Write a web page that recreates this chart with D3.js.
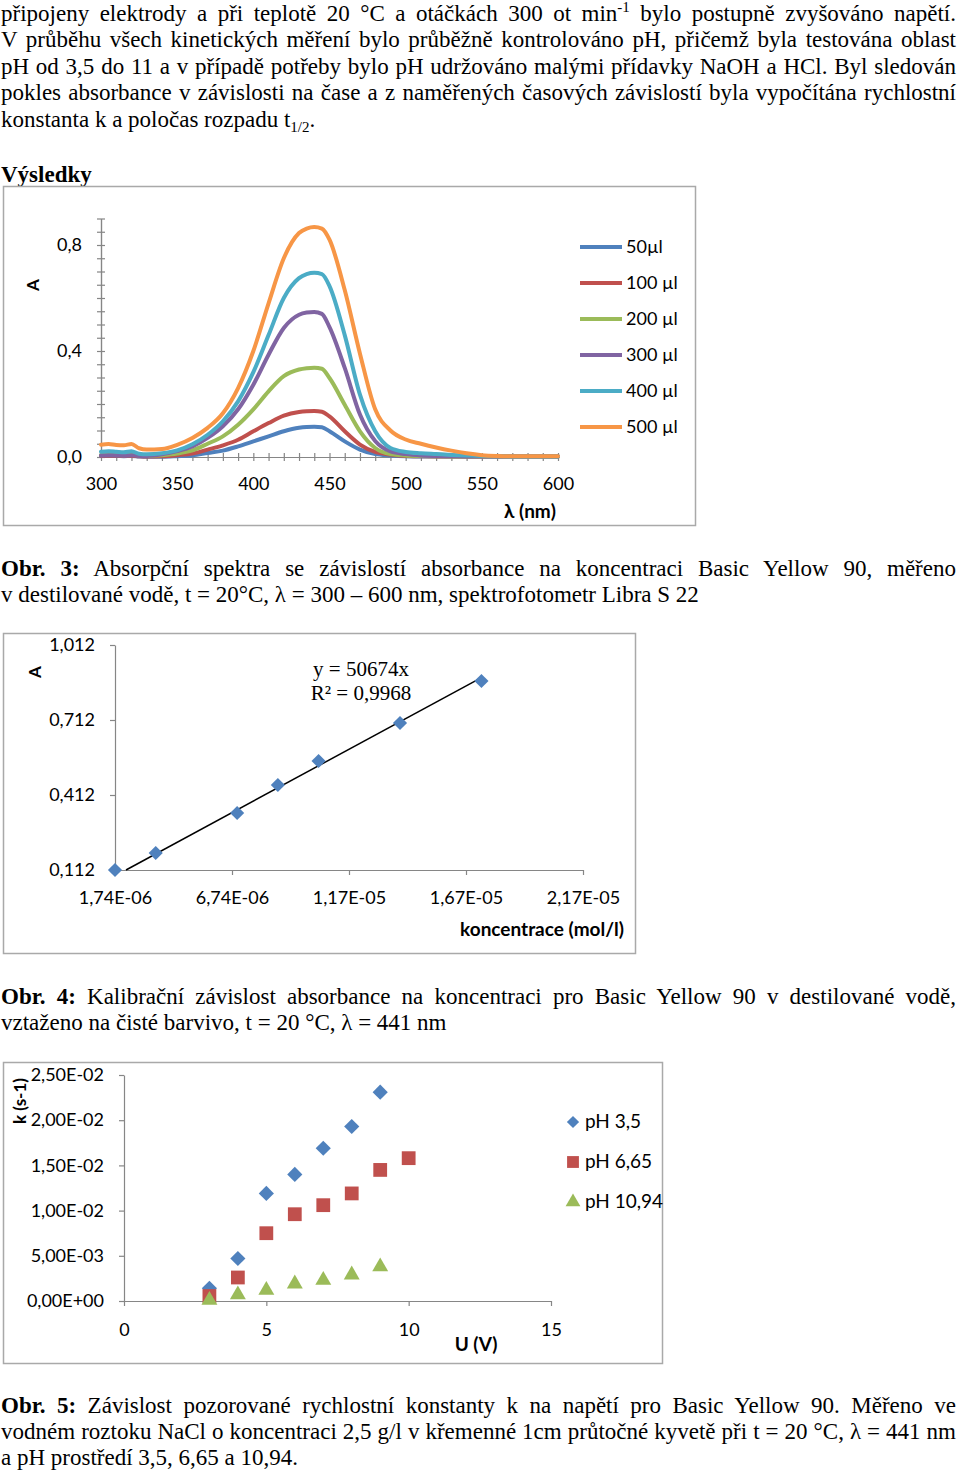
<!DOCTYPE html>
<html><head><meta charset="utf-8">
<script src="https://cdn.jsdelivr.net/npm/d3@7/dist/d3.min.js"></script>
<style>
html,body{margin:0;padding:0;background:#fff;}
svg{display:block;}
</style></head>
<body>
<svg id="page" width="960" height="1474"></svg>
<script>
// ---------------- DATA ----------------
// Figure 3: absorption spectra
const lambda = [300,305,310,315,320,325,330,340,350,360,370,380,390,400,410,420,430,435,440,445,450,460,470,480,490,500,510,520,530,540,550,560,570,580,590,600];
const spec50  = [0.004,0.004,0.004,0.003,0.004,0.002,0.001,0.001,0.003,0.006,0.015,0.024,0.040,0.059,0.078,0.097,0.110,0.113,0.114,0.112,0.097,0.059,0.028,0.011,0.006,0.003,0.002,0.002,0.002,0.002,0.002,0.002,0.002,0.002,0.002,0.002];
const spec100 = [0.005,0.005,0.005,0.004,0.005,0.003,0.002,0.003,0.007,0.013,0.028,0.044,0.065,0.097,0.128,0.156,0.170,0.173,0.174,0.171,0.153,0.097,0.047,0.019,0.009,0.004,0.003,0.002,0.002,0.002,0.002,0.002,0.002,0.002,0.002,0.002];
const spec200 = [0.008,0.009,0.008,0.007,0.009,0.005,0.004,0.007,0.013,0.025,0.050,0.078,0.122,0.180,0.248,0.305,0.330,0.335,0.337,0.333,0.298,0.197,0.097,0.034,0.011,0.006,0.004,0.003,0.002,0.002,0.002,0.002,0.002,0.002,0.002,0.002];
const spec300 = [0.006,0.007,0.006,0.005,0.007,0.004,0.004,0.010,0.022,0.040,0.072,0.116,0.180,0.273,0.386,0.487,0.537,0.545,0.547,0.540,0.490,0.336,0.160,0.060,0.021,0.011,0.006,0.004,0.003,0.002,0.002,0.002,0.002,0.002,0.002,0.002];
const spec400 = [0.020,0.022,0.020,0.018,0.022,0.012,0.010,0.014,0.025,0.048,0.084,0.135,0.210,0.320,0.460,0.600,0.675,0.690,0.695,0.690,0.645,0.460,0.235,0.097,0.034,0.019,0.014,0.011,0.008,0.006,0.004,0.003,0.002,0.002,0.002,0.002];
const spec500 = [0.046,0.049,0.045,0.044,0.049,0.033,0.028,0.030,0.046,0.072,0.110,0.165,0.260,0.400,0.580,0.750,0.845,0.862,0.868,0.862,0.820,0.630,0.390,0.180,0.100,0.066,0.050,0.036,0.024,0.014,0.007,0.004,0.003,0.003,0.003,0.003];
const specNames = ["50µl","100 µl","200 µl","300 µl","400 µl","500 µl"];
const specColors = ["#4F81BD","#C0504D","#9BBB59","#8064A2","#4BACC6","#F79646"];
const specX_ticks = [300,350,400,450,500,550,600];
const specY_ticks = [0,0.4,0.8];

// Figure 4: calibration
const calConc = [1.74e-6,3.48e-6,6.96e-6,8.70e-6,1.044e-5,1.392e-5,1.74e-5];
const calA    = [0.112,0.180,0.340,0.452,0.548,0.700,0.868];
const calSlope = 50674;
const calX_ticks = [1.74e-6,6.74e-6,1.174e-5,1.674e-5,2.174e-5];
const calX_labels = ["1,74E-06","6,74E-06","1,17E-05","1,67E-05","2,17E-05"];
const calY_ticks = [0.112,0.412,0.712,1.012];
const calY_labels = ["0,112","0,412","0,712","1,012"];

// Figure 5: rate constant vs voltage
const U_35  = [3,4,5,6,7,8,9];
const k_35  = [1.4e-3,4.7e-3,1.19e-2,1.40e-2,1.69e-2,1.93e-2,2.31e-2];
const U_665 = [3,4,5,6,7,8,9,10];
const k_665 = [5.5e-4,2.6e-3,7.5e-3,9.6e-3,1.06e-2,1.19e-2,1.45e-2,1.58e-2];
const U_1094 = [3,4,5,6,7,8,9];
const k_1094 = [1.0e-4,7.0e-4,1.2e-3,1.9e-3,2.3e-3,2.9e-3,3.8e-3];
const kNames = ["pH 3,5","pH 6,65","pH 10,94"];
const kColors = ["#4F81BD","#C0504D","#9BBB59"];
const kX_ticks = [0,5,10,15];
const kY_ticks = [0,0.005,0.01,0.015,0.02,0.025];
const kY_labels = ["0,00E+00","5,00E-03","1,00E-02","1,50E-02","2,00E-02","2,50E-02"];

// Text lines
const textLines = [
 {y:21, j:true, segs:[["připojeny elektrody a při teplotě 20 °C a otáčkách 300 ot min"],["-1","sup"],[" bylo postupně zvyšováno napětí."]]},
 {y:47, j:true, segs:[["V průběhu všech kinetických měření bylo průběžně kontrolováno pH, přičemž byla testována oblast"]]},
 {y:74, j:true, segs:[["pH od 3,5 do 11 a v případě potřeby bylo pH udržováno malými přídavky NaOH a HCl. Byl sledován"]]},
 {y:100, j:true, segs:[["pokles absorbance v závislosti na čase a z naměřených časových závislostí byla vypočítána rychlostní"]]},
 {y:127, j:false, segs:[["konstanta k a poločas rozpadu t"],["1/2","sub"],["."]]},
 {y:182, j:false, segs:[["Výsledky","bold"]]},
 {y:576, j:true, segs:[["Obr. 3:","bold"],[" Absorpční spektra se závislostí absorbance na koncentraci Basic Yellow 90, měřeno"]]},
 {y:602, j:false, segs:[["v destilované vodě, t = 20°C, λ = 300 – 600 nm, spektrofotometr Libra S 22"]]},
 {y:1004, j:true, segs:[["Obr. 4:","bold"],[" Kalibrační závislost absorbance na koncentraci pro Basic Yellow 90 v destilované vodě,"]]},
 {y:1030, j:false, segs:[["vztaženo na čisté barvivo, t = 20 °C, λ = 441 nm"]]},
 {y:1413, j:true, segs:[["Obr. 5:","bold"],[" Závislost pozorované rychlostní konstanty k na napětí pro Basic Yellow 90. Měřeno ve"]]},
 {y:1439, j:true, segs:[["vodném roztoku NaCl o koncentraci 2,5 g/l v křemenné 1cm průtočné kyvetě při t = 20 °C, λ = 441 nm"]]},
 {y:1465, j:false, segs:[["a pH prostředí 3,5, 6,65 a 10,94."]]}
];

// ---------------- DRAW ----------------
const svg = d3.select("#page");
svg.append("rect").attr("width",960).attr("height",1474).attr("fill","#fff");
const serif = "'Liberation Serif','Times New Roman',serif";
const sans = "Lato,'Open Sans',sans-serif";
const axisCol = "#868686";
const frameCol = "#A9A9A9";

// body text
textLines.forEach(L => {
  const t = svg.append("text").attr("x",1).attr("y",L.y)
    .attr("font-family",serif).attr("font-size",23).attr("fill","#000");
  L.segs.forEach(s => {
    const ts = t.append("tspan").text(s[0]);
    if (s[1]==="bold") ts.attr("font-weight","bold");
    if (s[1]==="sup") { ts.attr("font-size",15).attr("dy",-9); }
    if (s[1]==="sub") { ts.attr("font-size",15).attr("dy",5); }
  });
  t.selectAll("tspan").each(function(d,i){
    const prev = i>0 ? L.segs[i-1][1] : null;
    if (prev==="sup") d3.select(this).attr("dy",9);
    if (prev==="sub") d3.select(this).attr("dy",-5);
  });
  if (L.j) {
    const nat = t.node().getComputedTextLength();
    const full = L.segs.map(s=>s[0]).join("");
    const n = (full.match(/ /g)||[]).length;
    const ws = (956 - 1 - nat)/n;
    t.style("word-spacing", ws+"px");
  }
});

function styleAxis(g){
  g.select(".domain").attr("stroke",axisCol).attr("stroke-width",1.2);
  g.selectAll(".tick line").attr("stroke",axisCol).attr("stroke-width",1.2);
  g.selectAll(".tick text").attr("fill","#000").attr("font-family",sans).attr("font-size",18);
}

// ===== Chart 1 =====
svg.append("rect").attr("x",3.5).attr("y",186.5).attr("width",692).attr("height",339)
  .attr("fill","none").attr("stroke",frameCol).attr("stroke-width",1.5);
const x1 = d3.scaleLinear().domain([300,600]).range([101,558]);
const y1 = d3.scaleLinear().domain([0,0.9]).range([457,218.5]);
const minorY = d3.range(0,18.5,1).map(i=>i*0.05);
const minorX = d3.range(300,601,10);
const c1 = svg.append("g");
c1.append("g").attr("transform","translate(101,0)")
  .call(d3.axisLeft(y1).tickValues(minorY).tickSize(4).tickSizeOuter(0).tickFormat("")).call(styleAxis);
c1.append("g").attr("transform","translate(101,0)")
  .call(d3.axisRight(y1).tickValues(minorY).tickSize(4).tickSizeOuter(0).tickFormat("")).call(styleAxis);
c1.append("g").attr("transform","translate(101,0)")
  .call(d3.axisLeft(y1).tickValues(specY_ticks).tickSize(0).tickPadding(19).tickFormat(d=>d3.format(".1f")(d).replace(".",",")))
  .call(styleAxis).call(g=>g.select(".domain").remove());
c1.append("g").attr("transform","translate(0,457)")
  .call(d3.axisBottom(x1).tickValues(minorX).tickSize(4).tickSizeOuter(0).tickFormat("")).call(styleAxis);
c1.append("g").attr("transform","translate(0,457)")
  .call(d3.axisTop(x1).tickValues(minorX).tickSize(4).tickSizeOuter(0).tickFormat("")).call(styleAxis);
c1.append("g").attr("transform","translate(0,457)")
  .call(d3.axisBottom(x1).tickValues(specX_ticks).tickSize(0).tickPadding(20))
  .call(styleAxis).call(g=>g.select(".domain").remove());

const specSeries = [spec50,spec100,spec200,spec300,spec400,spec500];
const line1 = d3.line().x((d,i)=>x1(lambda[i])).y(d=>y1(d)).curve(d3.curveMonotoneX);
specSeries.forEach((s,i)=>{
  c1.append("path").attr("d",line1(s)).attr("fill","none")
    .attr("stroke",specColors[i]).attr("stroke-width",4).attr("stroke-linejoin","round").attr("stroke-linecap","round");
});
// legend
specNames.forEach((n,i)=>{
  const ly = 247 + i*36;
  c1.append("line").attr("x1",580).attr("x2",622).attr("y1",ly).attr("y2",ly)
    .attr("stroke",specColors[i]).attr("stroke-width",4);
  c1.append("text").attr("x",626).attr("y",ly+6).text(n)
    .attr("font-family",sans).attr("font-size",18).attr("fill","#000");
});
c1.append("text").attr("transform","translate(39,285) rotate(-90)").attr("text-anchor","middle")
  .attr("font-family",sans).attr("font-weight","bold").attr("font-size",17).text("A");
c1.append("text").attr("x",556).attr("y",518).attr("text-anchor","end")
  .attr("font-family",sans).attr("font-weight","bold").attr("font-size",19).text("λ (nm)");

// ===== Chart 2 =====
svg.append("rect").attr("x",3.5).attr("y",633.5).attr("width",632).attr("height",320)
  .attr("fill","none").attr("stroke",frameCol).attr("stroke-width",1.5);
const x2 = d3.scaleLinear().domain([1.74e-6,2.174e-5]).range([115,583]);
const y2 = d3.scaleLinear().domain([0.112,1.012]).range([870,645]);
const c2 = svg.append("g");
c2.append("g").attr("transform","translate(115,0)")
  .call(d3.axisLeft(y2).tickValues(calY_ticks).tickSize(5).tickSizeOuter(0).tickPadding(15)
    .tickFormat((d,i)=>calY_labels[i])).call(styleAxis);
c2.append("g").attr("transform","translate(0,870)")
  .call(d3.axisBottom(x2).tickValues(calX_ticks).tickSize(5).tickSizeOuter(0).tickPadding(16)
    .tickFormat((d,i)=>calX_labels[i])).call(styleAxis);
// trendline y = 50674x (from axis minimum to last point)
const tX0 = 0.112/calSlope, tX1 = d3.max(calConc);
c2.append("line").attr("x1",x2(tX0)).attr("y1",y2(calSlope*tX0))
  .attr("x2",x2(tX1)).attr("y2",y2(calSlope*tX1)).attr("stroke","#000").attr("stroke-width",1.5);
const diamond = d3.symbol().type(d3.symbolSquare);
c2.selectAll("path.pt").data(calConc).join("path").attr("class","pt")
  .attr("d",diamond.size(100)())
  .attr("transform",(d,i)=>`translate(${x2(d)},${y2(calA[i])}) rotate(45)`)
  .attr("fill","#4F81BD");
c2.append("text").attr("x",361).attr("y",676).attr("text-anchor","middle")
  .attr("font-family",serif).attr("font-size",21).text("y = 50674x");
c2.append("text").attr("x",361).attr("y",700).attr("text-anchor","middle")
  .attr("font-family",serif).attr("font-size",21).text("R² = 0,9968");
c2.append("text").attr("transform","translate(41,672) rotate(-90)").attr("text-anchor","middle")
  .attr("font-family",sans).attr("font-weight","bold").attr("font-size",17).text("A");
c2.append("text").attr("x",624).attr("y",936).attr("text-anchor","end")
  .attr("font-family",sans).attr("font-weight","bold").attr("font-size",19).text("koncentrace (mol/l)");

// ===== Chart 3 =====
svg.append("rect").attr("x",3.5).attr("y",1062.5).attr("width",659).attr("height",301)
  .attr("fill","none").attr("stroke",frameCol).attr("stroke-width",1.5);
const x3 = d3.scaleLinear().domain([0,15]).range([124,551]);
const y3 = d3.scaleLinear().domain([0,0.025]).range([1301,1075]);
const c3 = svg.append("g");
c3.append("g").attr("transform","translate(124,0)")
  .call(d3.axisLeft(y3).tickValues(kY_ticks).tickSize(5).tickSizeOuter(0).tickPadding(15)
    .tickFormat((d,i)=>kY_labels[i])).call(styleAxis);
c3.append("g").attr("transform","translate(0,1301)")
  .call(d3.axisBottom(x3).tickValues(kX_ticks).tickSize(5).tickSizeOuter(0).tickPadding(17)).call(styleAxis);

const symDiamond = (sz)=>d3.symbol().type(d3.symbolSquare).size(sz)();
const symSquare = (sz)=>d3.symbol().type(d3.symbolSquare).size(sz)();
const symTri = (sz)=>d3.symbol().type(d3.symbolTriangle).size(sz)();

c3.selectAll("path.p35").data(U_35).join("path").attr("class","p35")
  .attr("d",symDiamond(115))
  .attr("transform",(d,i)=>`translate(${x3(d)},${y3(k_35[i])}) rotate(45)`).attr("fill",kColors[0]);
c3.selectAll("path.p665").data(U_665).join("path").attr("class","p665")
  .attr("d",symSquare(190))
  .attr("transform",(d,i)=>`translate(${x3(d)},${y3(k_665[i])})`).attr("fill",kColors[1]);
c3.selectAll("path.p1094").data(U_1094).join("path").attr("class","p1094")
  .attr("d",symTri(110))
  .attr("transform",(d,i)=>`translate(${x3(d)},${y3(k_1094[i])})`).attr("fill",kColors[2]);

// legend
const legSyms = [
  {d:symDiamond(75), rot:45},
  {d:symSquare(140), rot:0},
  {d:symTri(95), rot:0}
];
kNames.forEach((n,i)=>{
  const ly = 1122 + i*40;
  c3.append("path").attr("d",legSyms[i].d).attr("transform",`translate(573,${ly}) rotate(${legSyms[i].rot})`)
    .attr("fill",kColors[i]);
  c3.append("text").attr("x",585).attr("y",ly+6).text(n)
    .attr("font-family",sans).attr("font-size",19).attr("fill","#000");
});
c3.append("text").attr("transform","translate(26,1101) rotate(-90)").attr("text-anchor","middle")
  .attr("font-family",sans).attr("font-weight","bold").attr("font-size",17).text("k (s-1)");
c3.append("text").attr("x",476).attr("y",1351).attr("text-anchor","middle")
  .attr("font-family",sans).attr("font-weight","bold").attr("font-size",19).text("U (V)");
</script>
</body></html>
